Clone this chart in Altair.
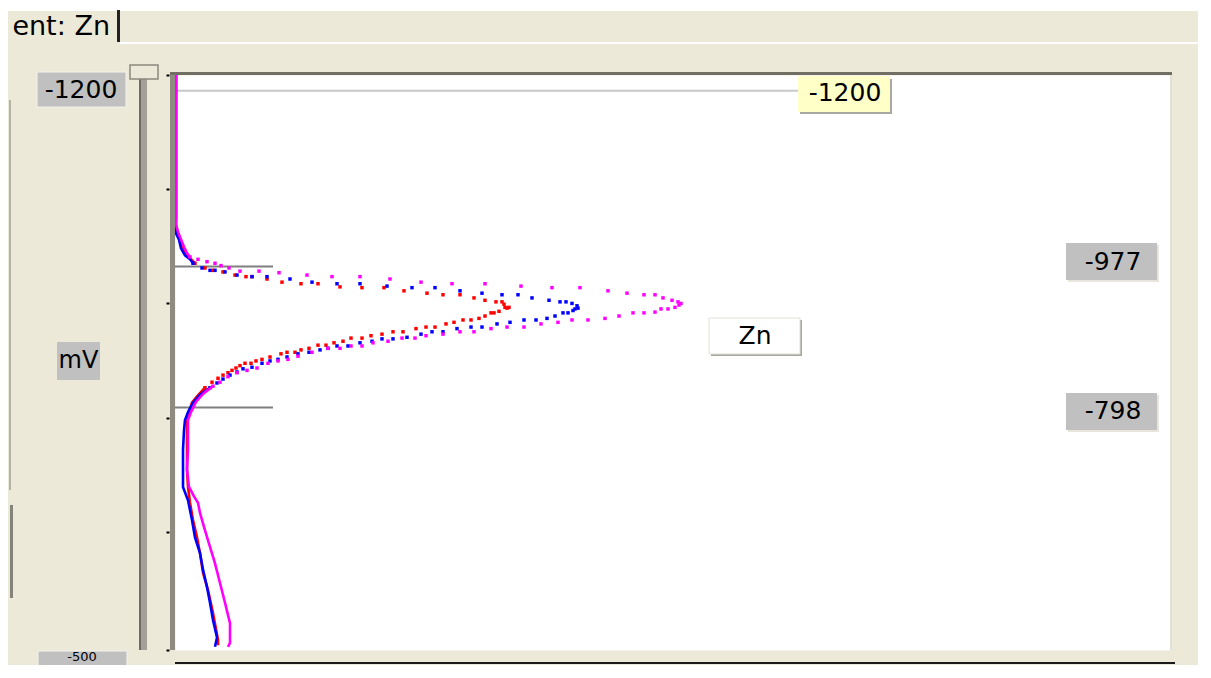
import altair as alt
import pandas as pd

# ---------------- data (current in arbitrary units, potential in mV) ----------------
SERIES = ["Scan 1", "Scan 2", "Scan 3"]
COLORS = ["#FF0000", "#0000FF", "#FF00FF"]

# sparse (dotted) part of each voltammogram: (current, potential)
red_dots = [(2.0,-981),(3.0,-975),(3.8,-972),(4.8,-970),(6.0,-966),(7.1,-964),(7.7,-964),(9.2,-961),
            (10.7,-957),(12.6,-955),(14.3,-955),(16.5,-951),(18.7,-950),(20.9,-950),(22.9,-946),
            (25.2,-943),(26.8,-941),(28.5,-941),(29.9,-937),(31.0,-934),(32.1,-932),(32.7,-932),
            (32.9,-929),(33.0,-925),(33.4,-925),(33.2,-924),(32.4,-920),(31.9,-918),(31.6,-918),
            (31.0,-914),(30.4,-911),(29.6,-909),(28.8,-909),(27.9,-906),(27.1,-904),(26.0,-900),
            (25.1,-900),(24.1,-898),(22.8,-894),(21.8,-894),(20.7,-891),(19.6,-889),(18.7,-886),
            (17.6,-886),(16.8,-882),(15.9,-880),(15.1,-877),(14.3,-877),(13.4,-873),(12.6,-871),
            (12.0,-868),(11.2,-868),(10.6,-866),(9.5,-862),(8.7,-859),(8.1,-857),(7.6,-854),
            (7.0,-854),(6.5,-851),(6.1,-848),(5.7,-845),(5.3,-842),(4.8,-839),(4.3,-835),
            (3.7,-830),(3.0,-823)]
blue_dots = [(1.8,-981),(2.7,-975),(3.5,-972),(4.0,-972),(5.0,-970),(6.2,-966),(7.7,-964),(9.2,-964),
             (11.5,-961),(13.7,-957),(16.2,-955),(18.5,-955),(21.2,-952),(23.7,-950),(26.0,-950),
             (28.5,-946),(30.7,-943),(32.7,-941),(34.3,-941),(35.7,-937),(37.4,-934),(38.5,-932),
             (39.1,-932),(39.7,-930),(40.2,-927),(40.3,-924),(40.0,-923),(39.8,-921),(39.3,-918),
             (38.8,-918),(38.0,-914),(37.2,-911),(36.1,-909),(34.9,-909),(33.5,-906),(32.2,-904),
             (30.7,-900),(29.6,-900),(28.2,-898),(26.8,-894),(25.7,-894),(24.6,-891),(23.2,-887),
             (21.8,-885),(20.7,-885),(19.7,-882),(18.5,-880),(17.3,-876),(16.2,-876),(15.3,-873),
             (14.5,-871),(13.4,-868),(12.3,-866),(11.2,-862),(10.3,-859),(9.5,-857),(8.7,-854),
             (7.7,-849),(6.8,-847),(6.2,-843),(5.5,-839),(4.8,-834),(4.2,-829),(3.5,-823)]
magenta_dots = [(1.5,-989),(2.3,-986),(3.2,-983),(4.0,-981),(4.6,-978),(5.4,-975),(6.5,-971),(8.4,-971),
                (10.4,-969),(13.2,-966),(15.7,-964),(18.5,-964),(21.5,-961),(24.6,-957),(27.7,-955),
                (31.0,-955),(34.6,-952),(37.7,-950),(40.5,-950),(43.3,-946),(45.2,-943),(46.9,-941),
                (48.0,-941),(48.8,-937),(49.7,-934),(50.3,-932),(50.6,-930),(50.4,-928),(50.0,-925),
                (49.3,-923),(48.6,-923),(48.0,-919),(46.9,-918),(45.8,-918),(44.4,-914),(43.0,-911),
                (41.3,-909),(39.7,-909),(38.3,-906),(36.6,-904),(34.9,-900),(33.2,-900),(31.6,-898),
                (29.9,-894),(28.5,-894),(26.8,-891),(25.1,-889),(24.0,-886),(22.7,-886),(21.3,-882),
                (19.8,-880),(18.7,-876),(17.6,-876),(16.5,-873),(15.3,-873),(13.7,-868),(12.3,-863),
                (11.3,-859),(10.3,-857),(9.3,-854),(8.2,-848),(7.2,-845),(6.2,-842),(5.3,-837),
                (4.5,-830),(3.8,-825)]

# dense parts (drawn as continuous traces): start of scan and end of scan
red_head = [(0.1,-1220),(0.1,-1030),(0.3,-1017),(0.6,-1007),(0.9,-998),(1.3,-990),(1.7,-985),(2.0,-981)]
blue_head = [(0.1,-1220),(0.1,-1036),(0.0,-1030),(0.1,-1019),(0.4,-1011),(0.6,-1000),(1.0,-991),
             (1.5,-986),(1.8,-981)]
magenta_head = [(0.1,-1220),(0.1,-1030),(0.3,-1021),(0.6,-1011),(0.9,-1002),(1.2,-994),(1.5,-989)]

red_tail = [(3.0,-823),(2.2,-812),(1.7,-804),(1.4,-792),(1.2,-782),(1.2,-757),(1.2,-719),(1.3,-697),
            (1.5,-677),(1.8,-655),(2.2,-633),(2.5,-613),(2.8,-588),(3.3,-566),(3.8,-537),(4.3,-503),
            (4.3,-496)]
blue_tail = [(3.5,-823),(2.5,-814),(1.8,-804),(1.3,-792),(1.0,-782),(0.9,-769),(0.8,-744),(0.8,-719),
             (0.8,-697),(1.3,-680),(1.7,-655),(2.0,-633),(2.5,-613),(2.8,-592),(3.2,-570),(3.5,-550),
             (3.8,-528),(4.2,-506),(4.0,-494)]
magenta_tail = [(3.8,-825),(2.8,-815),(2.1,-805),(1.6,-792),(1.3,-782),(1.3,-744),(1.2,-719),(1.4,-697),
                (1.9,-685),(2.3,-677),(2.5,-664),(3.0,-642),(3.5,-621),(4.0,-600),(4.5,-575),(5.0,-550),
                (5.5,-524),(5.5,-499),(5.3,-494)]

# marker lines: potential, end of line (current)
MARK_POT = [-1200, -977, -798]
MARK_END = [62.3, 9.8, 9.8]
MARK_TEXT = ["-1200", "-977", "-798"]
RANGE_TEXT = ["-1200", "-500"]
UNIT_TEXT = "mV"
ELEMENT_TEXT = "Zn"
TAB_TEXT = "ent: Zn"
Y_TICKS = [-1220, -1075, -930, -785, -640, -490]

# ---------------- chart ----------------
OX, OY = 175, 75          # page position of the plot origin
W, H = 995, 575
FONT = "DejaVu Sans"
DUMMY = alt.Data(values=[{"k": 0}])

xs = alt.Scale(domain=[0, 99.5], nice=False, zero=False)
ys = alt.Scale(domain=[-1220, -490], nice=False, zero=False, reverse=True)
yaxis = alt.Axis(values=Y_TICKS, labels=False, domain=False, ticks=True, tickSize=3,
                 tickWidth=2, tickColor="black", offset=6, grid=False, title="")


def X(f="current"):
    return alt.X(f + ":Q", scale=xs, axis=None)


def Y():
    return alt.Y("potential:Q", scale=ys, axis=yaxis)


def rect(x1, y1, x2, y2, fill, stroke=None, sw=1):
    kw = dict(fill=fill)
    if stroke:
        kw.update(stroke=stroke, strokeWidth=sw)
    else:
        kw.update(strokeWidth=0)
    return alt.Chart(DUMMY).mark_rect(**kw).encode(
        x=alt.value(x1 - OX), x2=alt.value(x2 - OX),
        y=alt.value(y1 - OY), y2=alt.value(y2 - OY))


def label(txt, cx, cy, size=25, align="center", baseline="middle"):
    return alt.Chart(DUMMY).mark_text(text=txt, font=FONT, fontSize=size, color="black",
                                      align=align, baseline=baseline).encode(
        x=alt.value(cx - OX), y=alt.value(cy - OY))


def dots_df(pairs):
    return pd.DataFrame(pairs, columns=["current", "potential"])


def line_df(head, tail):
    rows = []
    for seg, pts in (("head", head), ("tail", tail)):
        for i, (c, p) in enumerate(pts):
            rows.append({"seg": seg, "i": i, "current": c, "potential": p})
    return pd.DataFrame(rows)


layers = []
# window chrome (background)
layers += [
    rect(8, 8, 1198, 11, "#FFFFFF"),
    rect(117, 10, 120, 42, "#222222"),
    rect(120, 42, 1198, 44, "#FFFFFF"),
    rect(9, 100, 11, 490, "#B5B2A5"),
    rect(10, 505, 13, 598, "#85837A"),
    rect(139, 70, 147, 650, "#A3A198"),
    rect(139, 70, 141, 650, "#6E6C64"),
    rect(130, 65, 158, 79, "#ECE9D8", stroke="#8A887E", sw=1.5),
    label(TAB_TEXT, 110, 35, size=27, align="right", baseline="alphabetic"),
    rect(37, 72, 126, 107, "#C0C0C0", stroke="#F4F3EE"),
    label(RANGE_TEXT[0], 81, 90),
    rect(57, 342, 100, 380, "#C0C0C0"),
    label(UNIT_TEXT, 78.5, 361, size=24),
    rect(38, 651, 127, 680, "#C0C0C0", stroke="#F4F3EE"),
    label(RANGE_TEXT[1], 82, 657, size=13),
]

# marker lines
mk = pd.DataFrame({"potential": MARK_POT, "start": [0.0] * 3, "end": MARK_END})
layers.append(alt.Chart(mk.iloc[[0]]).mark_rule(color="#C8C8C8", strokeWidth=2).encode(
    x=X("start"), x2="end:Q", y=Y()))
layers.append(alt.Chart(mk.iloc[1:]).mark_rule(color="#7F7F7F", strokeWidth=2).encode(
    x=X("start"), x2="end:Q", y=Y()))

# voltammograms
for name, col, dots, head, tail in (
        (SERIES[0], COLORS[0], red_dots, red_head, red_tail),
        (SERIES[1], COLORS[1], blue_dots, blue_head, blue_tail),
        (SERIES[2], COLORS[2], magenta_dots, magenta_head, magenta_tail)):
    layers.append(alt.Chart(line_df(head, tail)).mark_line(color=col, strokeWidth=2.6).encode(
        x=X(), y=Y(), detail="seg:N", order=alt.Order("i:Q")))
    layers.append(alt.Chart(dots_df(dots)).mark_square(color=col, size=12, opacity=1).encode(
        x=X(), y=Y()))

# plot frame and labels
layers += [
    rect(170, 72, 175, 650, "#8E8C80"),
    rect(170, 72, 1172, 75, "#716F64"),
    rect(1170, 75, 1172, 650, "#E2DFD4"),
    rect(175, 662, 1175, 664, "#1A1A1A"),
    rect(800, 79, 892, 114, "#A8A8A0"),
    rect(798, 76, 890, 112, "#FFFFC8"),
    label(MARK_TEXT[0], 845, 93),
    rect(1068, 245, 1159, 282, "#E8E6DC"),
    rect(1066, 243, 1157, 280, "#C0C0C0"),
    label(MARK_TEXT[1], 1113, 262),
    rect(1068, 395, 1159, 432, "#E8E6DC"),
    rect(1066, 393, 1157, 430, "#C0C0C0"),
    label(MARK_TEXT[2], 1113, 411),
    rect(711, 320, 802, 356, "#A8A8A0"),
    rect(709, 318, 800, 354, "#FFFFFF", stroke="#E0DED5"),
    label(ELEMENT_TEXT, 755, 336),
]

chart = alt.layer(*layers).properties(
    width=W, height=H,
    background="#ECE9D8",
    autosize=alt.AutoSizeParams(type="none"),
    padding={"left": 167, "top": 67, "right": 28, "bottom": 15},
).configure_view(fill="white", stroke="transparent")

chart.save("out.html", embed_options={"renderer": "svg", "actions": False})
